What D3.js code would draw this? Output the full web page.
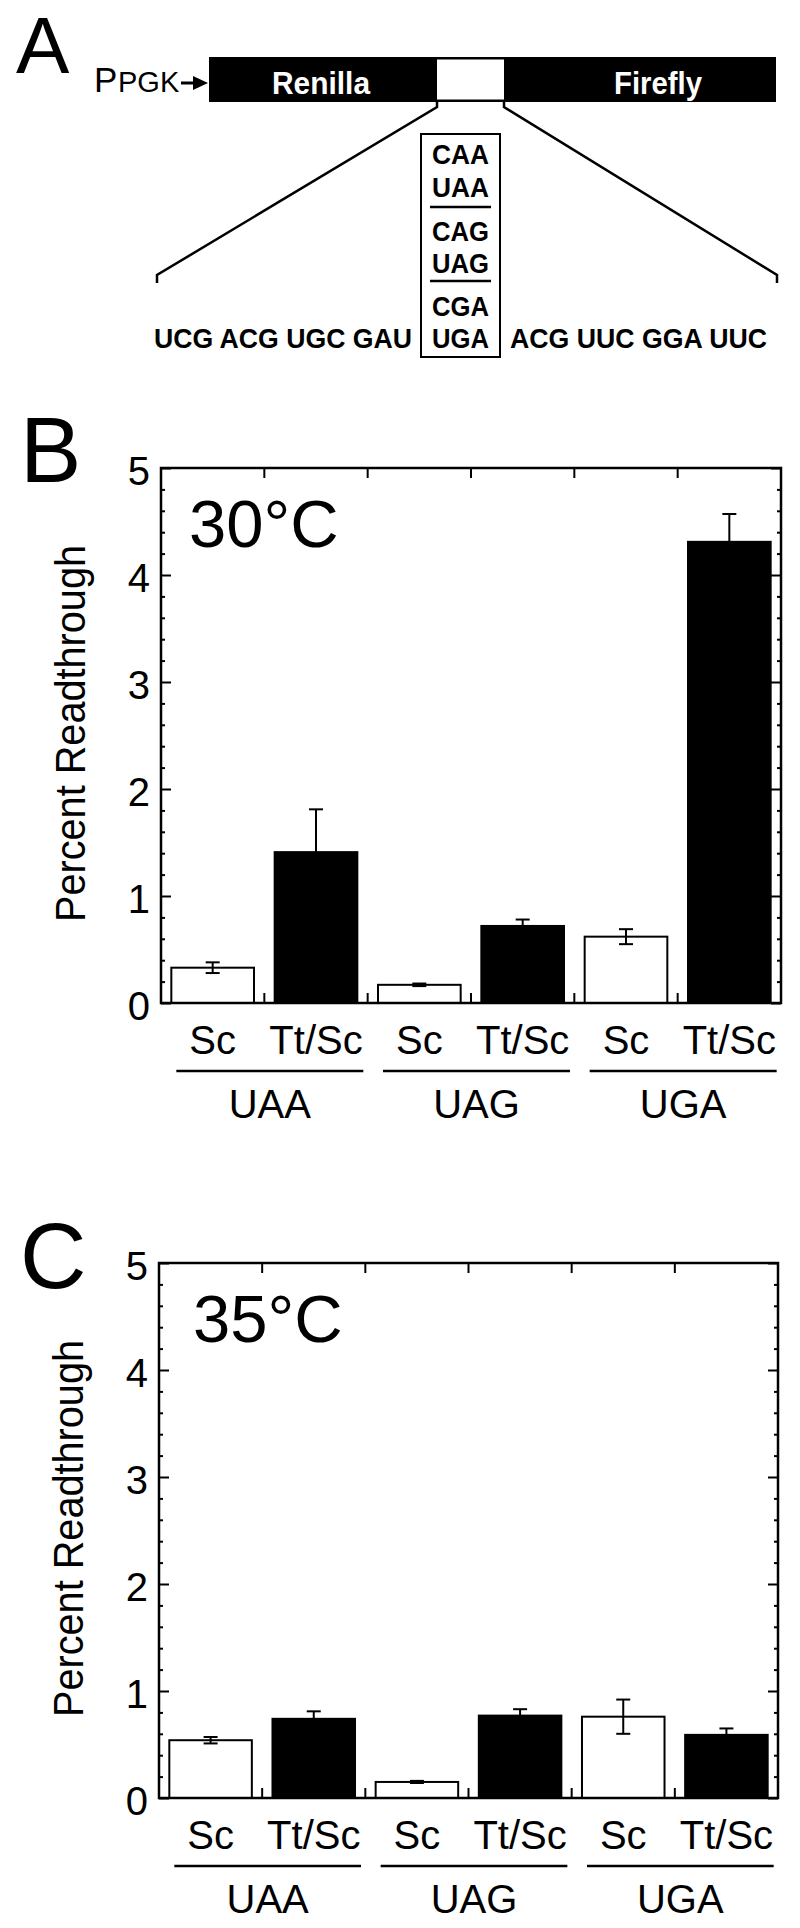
<!DOCTYPE html>
<html>
<head>
<meta charset="utf-8">
<script src="https://cdn.jsdelivr.net/npm/d3@7"></script>
<style>
  body { margin: 0; background: #fff; }
  svg { display: block; }
  text { font-family: "Liberation Sans", Arial, Helvetica, sans-serif; fill: #000; }
</style>
</head>
<body>
<svg id="fig" width="800" height="1928"></svg>
<script>
// ---- data ----
const codons = ["UAA", "UAG", "UGA"];
const strains = ["Sc", "Tt/Sc"];

// 30°C
const sc30 = [0.33, 0.17, 0.62];
const sc30Err = [0.05, 0.012, 0.07];
const ttsc30 = [1.41, 0.72, 4.31];
const ttsc30Err = [0.40, 0.06, 0.26];

// 35°C
const sc35 = [0.54, 0.15, 0.76];
const sc35Err = [0.03, 0.01, 0.16];
const ttsc35 = [0.74, 0.77, 0.59];
const ttsc35Err = [0.07, 0.06, 0.06];

const yTicks = [0, 1, 2, 3, 4, 5];

// panel A construct
const reporters = ["Renilla", "Firefly"];
const codonPairs = [["CAA", "UAA"], ["CAG", "UAG"], ["CGA", "UGA"]];
const upstream = "UCG ACG UGC GAU";
const downstream = "ACG UUC GGA UUC";

const svg = d3.select("#fig");
const FONT = 40;

// ---- panel letters ----
svg.selectAll("text.panel-letter")
  .data([["A", 16, 73, 80], ["B", 20, 482, 92], ["C", 20, 1288, 92]])
  .join("text")
  .attr("class", "panel-letter")
  .attr("x", d => d[1])
  .attr("y", d => d[2])
  .attr("font-size", d => d[3])
  .text(d => d[0]);

// ---- panel A ----
function drawConstruct() {
  const g = svg.append("g");
  const barTop = 57, barBot = 102, barL = 209, barR = 776;
  const gapL = 437, gapR = 504;

  g.append("text").attr("x", 94).attr("y", 92).attr("font-size", 35).text("P");
  g.append("text").attr("x", 118).attr("y", 92).attr("font-size", 29).text("PGK");

  g.append("line").attr("x1", 181).attr("x2", 196).attr("y1", 83).attr("y2", 83)
    .attr("stroke", "#000").attr("stroke-width", 3);
  g.append("path").attr("d", "M193,76L208,83L193,90Z").attr("fill", "#000");

  g.append("rect").attr("x", barL).attr("y", barTop)
    .attr("width", barR - barL).attr("height", barBot - barTop).attr("fill", "#000");
  g.append("rect").attr("x", gapL).attr("y", barTop + 2.5)
    .attr("width", gapR - gapL).attr("height", barBot - barTop - 5).attr("fill", "#fff");

  g.selectAll("text.rep")
    .data(reporters)
    .join("text")
    .attr("class", "rep")
    .attr("x", (d, i) => (i === 0 ? 272 : 614))
    .attr("y", 94)
    .attr("font-size", 32)
    .attr("font-weight", "bold")
    .attr("textLength", (d, i) => (i === 0 ? 98 : 88))
    .attr("lengthAdjust", "spacingAndGlyphs")
    .style("fill", "#fff")
    .text(d => d);

  const line = d3.line();
  g.append("path")
    .attr("d", line([[gapL, barBot], [gapL, 107], [157, 275], [157, 283]]))
    .attr("fill", "none").attr("stroke", "#000").attr("stroke-width", 2.5);
  g.append("path")
    .attr("d", line([[gapR, barBot], [gapR, 107], [777, 275], [777, 283]]))
    .attr("fill", "none").attr("stroke", "#000").attr("stroke-width", 2.5);

  g.append("rect").attr("x", 421).attr("y", 134).attr("width", 79).attr("height", 223)
    .attr("fill", "none").attr("stroke", "#000").attr("stroke-width", 2);

  const flat = codonPairs.flat();
  g.selectAll("text.codon")
    .data(flat)
    .join("text")
    .attr("class", "codon")
    .attr("x", 432)
    .attr("y", (d, i) => [164, 197, 241, 273, 316, 348][i])
    .attr("font-size", 27)
    .attr("font-weight", "bold")
    .attr("textLength", 57)
    .attr("lengthAdjust", "spacingAndGlyphs")
    .text(d => d);

  g.selectAll("line.sep")
    .data([207, 281])
    .join("line")
    .attr("class", "sep")
    .attr("x1", 430).attr("x2", 491)
    .attr("y1", d => d).attr("y2", d => d)
    .attr("stroke", "#000").attr("stroke-width", 2.5);

  g.append("text").attr("x", 154).attr("y", 348).attr("font-size", 28).attr("font-weight", "bold")
    .attr("textLength", 258).attr("lengthAdjust", "spacingAndGlyphs").text(upstream);
  g.append("text").attr("x", 510).attr("y", 348).attr("font-size", 28).attr("font-weight", "bold")
    .attr("textLength", 257).attr("lengthAdjust", "spacingAndGlyphs").text(downstream);
}
drawConstruct();

// ---- bar panels ----
function drawPanel(cfg) {
  const { left, right, top, bottom, title, titleDx, sc, scErr, tt, ttErr } = cfg;
  const g = svg.append("g");

  const rows = codons.flatMap((c, i) => [
    { codon: c, strain: strains[0], value: sc[i], err: scErr[i], fill: "#fff" },
    { codon: c, strain: strains[1], value: tt[i], err: ttErr[i], fill: "#000" },
  ]);
  const key = d => d.codon + "|" + d.strain;

  const x = d3.scaleBand()
    .domain(rows.map(key))
    .range([left, right])
    .paddingInner(0.2)
    .paddingOuter(0.1);
  const y = d3.scaleLinear().domain([0, 5]).range([bottom, top]);

  const minor = d3.range(0, 5.001, 0.2).filter(v => Math.abs(v - Math.round(v)) > 1e-6);

  // bars
  g.selectAll("rect.bar")
    .data(rows)
    .join("rect")
    .attr("class", "bar")
    .attr("x", d => x(key(d)))
    .attr("width", x.bandwidth())
    .attr("y", d => y(d.value))
    .attr("height", d => y(0) - y(d.value))
    .attr("fill", d => d.fill)
    .attr("stroke", "#000")
    .attr("stroke-width", 2);

  // error bars
  const eb = g.selectAll("g.err").data(rows).join("g").attr("class", "err")
    .attr("transform", d => `translate(${x(key(d)) + x.bandwidth() / 2},0)`)
    .attr("stroke", "#000").attr("stroke-width", 2);
  eb.append("line").attr("y1", d => y(d.value - d.err)).attr("y2", d => y(d.value + d.err));
  eb.append("line").attr("x1", -7).attr("x2", 7)
    .attr("y1", d => y(d.value + d.err)).attr("y2", d => y(d.value + d.err));
  eb.append("line").attr("x1", -7).attr("x2", 7)
    .attr("y1", d => y(d.value - d.err)).attr("y2", d => y(d.value - d.err));

  // frame
  g.append("rect").attr("x", left).attr("y", top)
    .attr("width", right - left).attr("height", bottom - top)
    .attr("fill", "none").attr("stroke", "#000").attr("stroke-width", 2.5);

  // y axes
  const styleAxis = sel => {
    sel.select(".domain").remove();
    sel.selectAll(".tick line").attr("stroke", "#000").attr("stroke-width", 2);
  };
  g.append("g").attr("transform", `translate(${left},0)`)
    .call(d3.axisLeft(y).tickValues(yTicks).tickSizeInner(-10).tickSizeOuter(0)
      .tickPadding(11).tickFormat(d3.format("d")))
    .call(styleAxis)
    .call(a => a.selectAll(".tick text")
      .attr("font-size", FONT).attr("font-family", null).attr("dy", "0.42em"));
  g.append("g").attr("transform", `translate(${left},0)`)
    .call(d3.axisLeft(y).tickValues(minor).tickSize(-4).tickFormat(""))
    .call(styleAxis);
  g.append("g").attr("transform", `translate(${right},0)`)
    .call(d3.axisRight(y).tickValues(yTicks).tickSize(-10).tickFormat(""))
    .call(styleAxis);
  g.append("g").attr("transform", `translate(${right},0)`)
    .call(d3.axisRight(y).tickValues(minor).tickSize(-4).tickFormat(""))
    .call(styleAxis);

  // slot-boundary ticks on top and bottom
  const bounds = rows.slice(1).map(d => x(key(d)) - x.step() * x.paddingInner() / 2);
  g.selectAll("line.tt").data(bounds).join("line").attr("class", "tt")
    .attr("x1", d => d).attr("x2", d => d).attr("y1", top).attr("y2", top + 10)
    .attr("stroke", "#000").attr("stroke-width", 2);
  g.selectAll("line.bt").data(bounds).join("line").attr("class", "bt")
    .attr("x1", d => d).attr("x2", d => d).attr("y1", bottom).attr("y2", bottom - 10)
    .attr("stroke", "#000").attr("stroke-width", 2);

  // strain labels
  g.selectAll("text.strain").data(rows).join("text").attr("class", "strain")
    .attr("x", d => x(key(d)) + x.bandwidth() / 2)
    .attr("y", bottom + 51)
    .attr("text-anchor", "middle")
    .attr("font-size", FONT)
    .text(d => d.strain);

  // codon group underline + label
  const groups = codons.map(c => {
    const x0 = x(c + "|" + strains[0]) + 5;
    const x1 = x(c + "|" + strains[1]) + x.bandwidth() + 6;
    return { codon: c, x0, x1 };
  });
  g.selectAll("line.grp").data(groups).join("line").attr("class", "grp")
    .attr("x1", d => d.x0).attr("x2", d => d.x1)
    .attr("y1", bottom + 68).attr("y2", bottom + 68)
    .attr("stroke", "#000").attr("stroke-width", 2.5);
  g.selectAll("text.grp").data(groups).join("text").attr("class", "grp")
    .attr("x", d => (d.x0 + d.x1) / 2)
    .attr("y", bottom + 115)
    .attr("text-anchor", "middle")
    .attr("font-size", FONT)
    .text(d => d.codon);

  // temperature label
  g.append("text").attr("x", left + titleDx).attr("y", top + 79)
    .attr("font-size", 67).text(title);

  // y title
  g.append("text")
    .attr("transform", `translate(${left - 76},${(top + bottom) / 2 - 2}) rotate(-90)`)
    .attr("text-anchor", "middle")
    .attr("font-size", 42)
    .attr("textLength", 377)
    .attr("lengthAdjust", "spacingAndGlyphs")
    .text("Percent Readthrough");
}

drawPanel({ left: 161, right: 781, top: 468, bottom: 1003, title: "30°C", titleDx: 28,
  sc: sc30, scErr: sc30Err, tt: ttsc30, ttErr: ttsc30Err });
drawPanel({ left: 159, right: 778, top: 1263, bottom: 1798, title: "35°C", titleDx: 34,
  sc: sc35, scErr: sc35Err, tt: ttsc35, ttErr: ttsc35Err });
</script>
</body>
</html>
